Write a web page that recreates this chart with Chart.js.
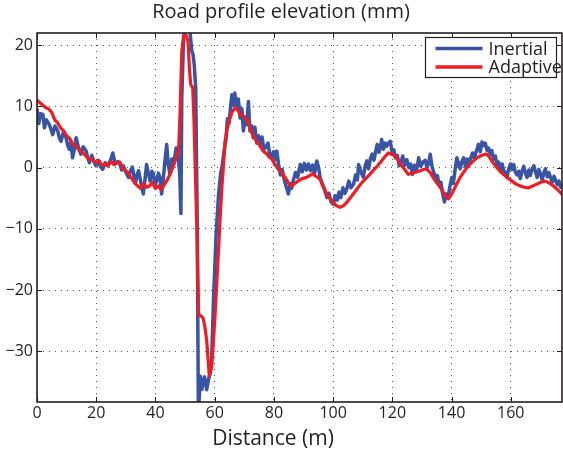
<!DOCTYPE html>
<html>
<head>
<meta charset="utf-8">
<script src="https://cdn.jsdelivr.net/npm/chart.js@4.4.1/dist/chart.umd.min.js"></script>
<style>
  html, body { margin: 0; padding: 0; background: #fff; }
  canvas { display: block; }
</style>
</head>
<body>
<canvas id="profile" width="563" height="452"></canvas>
<script>
// distance (m) / elevation (mm)
const inertialDist = [
  0, 0.6, 1.2, 2, 2.5, 3.2, 4.2, 5.3, 6.1, 7,
  7.6, 8.1, 9, 9.8, 10.4, 10.9, 11.5, 12, 12.6, 13.2,
  14, 14.8, 15.6, 16.6, 17.2, 17.7, 18.5, 19.2, 19.9, 20.7,
  21.4, 22.2, 23, 23.9, 24.8, 25.6, 26.4, 27.3, 28, 28.6,
  29.2, 30, 30.9, 31.5, 32.2, 33.2, 33.8, 34.3, 35.1, 35.9,
  36.5, 37, 37.6, 38.2, 38.8, 39.3, 39.9, 40.4, 41, 41.5,
  42.1, 42.7, 43.2, 43.8, 44.3, 44.9, 45.5, 46, 46.6, 47,
  47.7, 48.2, 48.6, 48.9, 49.4, 49.9, 51.2, 51.7, 52.3, 52.7,
  53.1, 53.6, 54.1, 54.5, 55.2, 55.7, 56.1, 56.6, 57.3, 57.9,
  58.5, 59, 59.6, 60.5, 61.3, 62, 62.6, 63.2, 63.8, 64.3,
  64.8, 65.3, 65.8, 66.3, 66.8, 67.4, 68, 68.6, 69.2, 69.7,
  70.3, 70.8, 71.4, 71.9, 72.5, 73, 73.6, 74.2, 74.8, 75.3,
  76, 76.6, 77.2, 78, 78.6, 79.2, 79.9, 80.5, 81, 81.6,
  82.2, 82.8, 83.5, 84.2, 84.9, 85.5, 86, 86.6, 87.3, 88,
  88.9, 89.6, 90.3, 91, 91.7, 92.4, 93.1, 93.7, 94.5, 95.1,
  95.6, 96.3, 97, 97.9, 98.6, 99.3, 100.1, 100.7, 101.4, 102,
  102.6, 103.3, 104, 104.6, 105.3, 106, 106.9, 107.6, 108.2, 108.6,
  109.3, 110.2, 110.8, 111.4, 112, 112.6, 113.2, 113.8, 114.4, 114.9,
  115.5, 116, 116.4, 117, 117.6, 118.1, 118.7, 119.3, 119.9, 120.5,
  121, 121.7, 122.3, 122.9, 123.5, 124.2, 124.9, 125.6, 126.2, 126.8,
  127.5, 128.2, 128.9, 129.6, 130.3, 131.1, 131.7, 132.3, 132.8, 133.4,
  134, 134.6, 135.2, 135.8, 136.4, 137, 137.6, 138.2, 138.8, 139.4,
  140.1, 140.6, 141.2, 141.8, 142.4, 142.9, 143.5, 144.1, 144.7, 145.3,
  145.9, 146.5, 147.1, 147.7, 148.3, 149.1, 149.7, 150.3, 150.8, 151.4,
  152, 152.5, 153.1, 153.6, 154.2, 154.8, 155.4, 155.9, 156.5, 157.1,
  157.6, 158.2, 158.7, 159.3, 159.9, 160.4, 161, 161.5, 162.1, 162.7,
  163.2, 163.8, 164.4, 164.9, 165.5, 166.1, 166.6, 167.2, 167.8, 168.3,
  168.9, 169.5, 170, 170.6, 171.2, 171.7, 172.3, 172.9, 173.4, 174,
  174.6, 175.1, 175.7, 176.3, 176.8, 177.3,
];
const inertialElev = [
  9.5, 7.2, 8.8, 8.7, 6.5, 7.8, 7.0, 5.4, 6.8, 6.0,
  4.8, 4.3, 5.9, 4.9, 3.6, 3.0, 4.2, 1.6, 3.0, 4.9,
  3.3, 2.2, 3.4, 2.7, 1.5, 0.8, 2.0, 1.0, 0.3, 1.2,
  0.2, -0.3, 0.8, 0.3, 1.2, 2.4, 0.6, 1.0, 0.5, -0.4,
  0.3, -0.8, -1.6, -0.6, 0.1, -2.6, -1.2, -0.5, -2.5, -4.3,
  -1.8, 0.5, -0.9, -2.2, -0.6, -1.0, -2.8, -2.2, -0.9, -1.6,
  -4.3, -1.5, 1.1, 3.8, 0.5, -1.0, 1.4, 0.5, 2.0, 3.2,
  1.6, -1.0, -7.5, 11.4, 19.5, 24, 24, 22, 19, 18.5,
  16.8, 13, -8, -40, -34.1, -36.2, -35.0, -34.2, -36.3, -34.7,
  -33.5, -30.9, -21.7, -10.8, -4.5, -1.0, 0.5, 2.8, 4.5, 8.0,
  7.2, 9.5, 11.9, 10.2, 12.2, 9.6, 11.2, 8.1, 9.6, 6.0,
  8.2, 7.0, 10.8, 6.0, 6.8, 4.9, 6.6, 4.0, 5.2, 3.6,
  5.0, 3.0, 3.3, 4.0, 2.2, 1.7, 2.6, 1.3, 2.7, 0.5,
  -1.2, -0.3, -2.0, -3.2, -4.3, -2.6, -3.4, -2.0, -0.8, -1.6,
  0.5, -0.7, 0.7, -0.4, 0.6, -0.5, 0.4, -1.0, 1.1, 0.0,
  -1.6, -2.6, -3.4, -4.9, -4.2, -5.6, -6.0, -4.6, -5.3, -4.0,
  -4.9, -3.3, -4.2, -3.5, -2.2, -3.3, -2.7, -1.2, -2.0, 0.5,
  -0.6, -1.6, 0.2, 1.1, -0.2, 1.5, 2.2, 1.2, 2.7, 3.8,
  2.5, 3.4, 4.6, 3.0, 4.0, 3.5, 4.0, 4.3, 2.6, 2.9,
  1.6, 2.0, 0.3, 0.9, 1.9, 0.4, 1.3, 0.0, 0.6, -1.1,
  0.4, -0.4, 1.6, 0.2, 0.9, 1.2, 0.0, 0.8, 2.2, 0.2,
  -0.8, -1.8, -1.3, -2.6, -2.4, -4.3, -5.6, -4.3, -5.0, -3.2,
  -1.6, -2.6, -0.3, 1.6, 0.6, -0.2, 1.0, 1.6, 0.2, 1.4,
  0.6, 1.6, 2.4, 1.5, 2.6, 3.8, 2.6, 4.2, 3.6, 4.0,
  2.8, 3.2, 2.2, 2.8, 1.4, 1.9, 0.3, 0.9, -0.6, 0.6,
  -0.5, -0.8, -1.6, -0.2, 0.6, -0.3, 0.5, -0.7, -1.2, -0.6,
  -1.8, -0.6, 0.2, -0.8, -1.6, -0.4, -1.3, -0.2, 0.3, -0.6,
  -1.6, -0.3, -1.0, -2.0, -0.8, -0.2, -1.5, -0.8, -1.6, -2.4,
  -1.4, -2.0, -2.8, -2.2, -3.2, -3.0,
];
const adaptiveDist = [
  0, 1, 2, 3, 4, 5, 6, 7, 8, 9,
  10, 11, 12, 13, 14, 15, 16, 17, 18, 19,
  20, 21, 22, 23, 24, 25, 26, 27, 28, 29,
  30, 31, 32, 33, 34, 35, 36, 37, 38, 39,
  40, 41, 42, 43, 44, 45, 46, 47, 47.8, 48.3,
  48.9, 49.5, 50, 50.5, 51, 51.5, 51.9, 52.6, 53, 53.4,
  54, 54.6, 55.3, 56.1, 56.7, 57.3, 58.2, 59, 59.5, 60.1,
  60.7, 61.3, 61.8, 62.4, 63, 63.5, 64.3, 65.2, 66, 66.9,
  67.7, 68.6, 69.5, 70.3, 71, 72, 73, 74.2, 75.3, 76.4,
  77.5, 78.5, 79.3, 80.3, 81.4, 82.5, 83.8, 85, 86, 87,
  88.2, 89.5, 91.1, 93.2, 94.2, 95.6, 96.5, 97.3, 98.5, 99.6,
  101, 102.4, 103.5, 104.6, 105.7, 106.8, 108.5, 110.2, 112, 113.5,
  115, 116.4, 117.5, 118.7, 119.8, 121, 122, 123.2, 124.3, 125.4,
  126.5, 127.7, 129, 130.5, 131.5, 132.8, 134, 135.2, 136.3, 137.3,
  138.2, 139, 139.8, 140.6, 141.8, 142.9, 144, 145.2, 146.3, 147.4,
  148.6, 149.7, 150.8, 151.9, 152.7, 153.6, 154.5, 155.3, 156.4, 157.5,
  159, 160.4, 161.8, 163.2, 164.6, 166, 167.4, 168.8, 170.2, 171.6,
  173, 174.4, 175.8, 177.2,
];
const adaptiveElev = [
  11.0, 10.6, 10.2, 9.8, 9.6, 9.0, 7.8, 7.3, 6.5, 6.0,
  5.2, 4.8, 3.9, 3.6, 3.0, 2.6, 2.2, 1.6, 1.4, 1.2,
  0.8, 1.1, 0.4, 0.6, 0.3, 1.0, 0.5, 0.8, 0.9, -0.2,
  -0.5, -1.0, -1.8, -2.5, -3.0, -3.4, -2.6, -3.2, -3.0, -2.4,
  -3.4, -3.0, -3.6, -2.8, -2.0, -1.0, 0.2, 1.6, 2.5, 8.7,
  19, 21.5, 21.7, 21.5, 20.6, 16, 13.6, 13, 8, 0.6,
  -10.3, -24.1, -24.2, -24.6, -26, -28.2, -34.1, -32.5, -29, -24.4,
  -19, -13.5, -8.7, -3.5, 0.5, 4.3, 6.5, 8.1, 9.2, 9.8,
  9.5, 8.7, 8.5, 8.1, 7.8, 6.3, 5.2, 4.3, 3.6, 2.7,
  2.3, 1.7, 1.4, 0.6, -0.2, -0.8, -1.6, -2.6, -3.0, -2.6,
  -2.2, -1.8, -1.6, -1.0, -1.4, -1.9, -3.0, -3.8, -4.8, -5.4,
  -6.2, -6.5, -6.2, -5.7, -5.0, -4.3, -3.2, -2.2, -1.3, -0.5,
  0.3, 1.1, 1.8, 2.4, 2.2, 1.9, 1.2, 0.3, -0.4, -1.1,
  -0.9, -0.8, -0.6, -0.3, -0.2, -0.8, -1.8, -2.6, -3.3, -4.1,
  -4.8, -5.1, -4.5, -3.8, -2.6, -1.6, -0.8, 0.0, 0.6, 1.1,
  1.6, 1.9, 2.1, 2.2, 1.8, 1.1, 0.5, 0.0, -0.6, -1.1,
  -1.7, -2.2, -2.7, -3.0, -3.2, -3.3, -3.0, -2.7, -2.4, -2.2,
  -2.5, -3.0, -3.6, -4.3,
];
const distanceTicks = [0, 20, 40, 60, 80, 100, 120, 140, 160];
const elevationTicks = [-30, -20, -10, 0, 10, 20];

const FONT = "'Open Sans', 'DejaVu Sans', sans-serif";
const INK = '#231f20';

const toPoints = (xs, ys) => xs.map((x, i) => ({ x, y: ys[i] }));
const minus = v => (v < 0 ? '\u2212' + Math.abs(v) : String(v));

// matlab-ish box, inward ticks, boxed legend, x label
const decorations = {
  id: 'decorations',
  afterDraw(chart) {
    const { ctx, chartArea: a, scales } = chart;
    ctx.save();
    ctx.strokeStyle = INK;
    ctx.lineWidth = 1;
    ctx.beginPath();
    scales.x.ticks.forEach(t => {
      const px = Math.round(scales.x.getPixelForValue(t.value)) + 0.5;
      ctx.moveTo(px, a.bottom); ctx.lineTo(px, a.bottom - 5);
      ctx.moveTo(px, a.top); ctx.lineTo(px, a.top + 5);
    });
    scales.y.ticks.forEach(t => {
      const py = Math.round(scales.y.getPixelForValue(t.value)) + 0.5;
      ctx.moveTo(a.left, py); ctx.lineTo(a.left + 5, py);
      ctx.moveTo(a.right, py); ctx.lineTo(a.right - 5, py);
    });
    ctx.stroke();
    ctx.lineWidth = 1.6;
    ctx.strokeRect(a.left, a.top, a.right - a.left, a.bottom - a.top);

    // legend
    const box = { x: 425.5, y: 37.5, w: 131, h: 40 };
    ctx.fillStyle = '#fff';
    ctx.fillRect(box.x, box.y, box.w, box.h);
    ctx.lineWidth = 1.2;
    ctx.strokeRect(box.x, box.y, box.w, box.h);
    ctx.font = `18px ${FONT}`;
    ctx.textBaseline = 'middle';
    chart.data.datasets.forEach((ds, i) => {
      const y = box.y + 11 + i * 18.5;
      ctx.strokeStyle = ds.borderColor;
      ctx.lineWidth = 3.5;
      ctx.beginPath();
      ctx.moveTo(box.x + 10, y);
      ctx.lineTo(box.x + 57, y);
      ctx.stroke();
      ctx.fillStyle = INK;
      ctx.fillText(ds.label, box.x + 63, y + 1);
    });

    ctx.font = `21px ${FONT}`;
    ctx.textAlign = 'center';
    ctx.textBaseline = 'alphabetic';
    ctx.fillText('Distance (m)', 273, 445);
    ctx.restore();
  },
};

new Chart(document.getElementById('profile'), {
  type: 'line',
  data: {
    datasets: [
      {
        label: 'Inertial',
        data: toPoints(inertialDist, inertialElev),
        borderColor: '#3a54a4',
        borderWidth: 3.5,
        order: 1,
      },
      {
        label: 'Adaptive',
        data: toPoints(adaptiveDist, adaptiveElev),
        borderColor: '#ee1c25',
        borderWidth: 3.2,
        order: 0,
      },
    ],
  },
  options: {
    responsive: false,
    animation: false,
    devicePixelRatio: 1,
    layout: { padding: { right: 1, left: 0, top: 0, bottom: 0 } },
    elements: {
      point: { radius: 0 },
      line: { tension: 0, borderJoinStyle: 'round', borderCapStyle: 'round' },
    },
    plugins: {
      legend: { display: false },
      tooltip: { enabled: false },
      title: {
        display: true,
        text: 'Road profile elevation (mm)',
        color: INK,
        font: { family: FONT, size: 20, weight: 'normal' },
        padding: { top: 0, bottom: 9 },
      },
    },
    scales: {
      x: {
        type: 'linear',
        min: 0,
        max: 177.3,
        afterBuildTicks: s => { s.ticks = distanceTicks.map(value => ({ value })); },
        afterFit: s => { s.height = 50; },
        grid: { color: '#555', lineWidth: 1, drawTicks: false },
        border: { display: false, dash: [1, 5] },
        ticks: {
          color: INK,
          padding: 2,
          font: { family: FONT, size: 16 },
          maxRotation: 0,
          callback: minus,
        },
      },
      y: {
        type: 'linear',
        min: -38.3,
        max: 22,
        afterBuildTicks: s => { s.ticks = elevationTicks.map(value => ({ value })); },
        afterFit: s => { s.width = 37; },
        grid: { color: '#555', lineWidth: 1, drawTicks: false },
        border: { display: false, dash: [1, 5] },
        ticks: {
          color: INK,
          padding: 4,
          font: { family: FONT, size: 16 },
          callback: minus,
        },
      },
    },
  },
  plugins: [decorations],
});
</script>
</body>
</html>
